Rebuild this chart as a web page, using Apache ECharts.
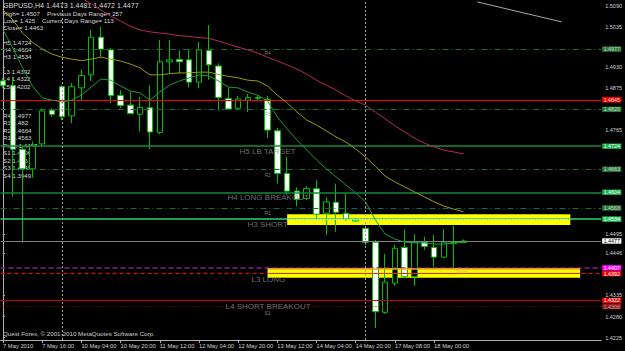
<!DOCTYPE html>
<html><head><meta charset="utf-8">
<script src="https://cdn.jsdelivr.net/npm/echarts@6/dist/echarts.min.js"></script>
<style>html,body{margin:0;padding:0;background:#000;}#c{width:625px;height:351px;}</style>
</head><body><div id="c"></div>
<script>
// ---- data ----
const xTickIdx = [0,4,8,12,16,20,24,28,32,36,40,44];
const xTickText = ['7 May 2010','7 May 16:00','10 May 04:00','10 May 20:00','11 May 12:00','12 May 04:00','12 May 20:00','13 May 12:00','14 May 04:00','14 May 20:00','17 May 08:00','18 May 00:00'];
// only the price-scale labels that are not covered by level tags
const yTickVal  = [1.5090,1.5035,1.4930,1.4875,1.4765,1.4495,1.4446,1.4335,1.4280,1.4225];
const yTickText = ['1.5090','1.5035','1.4930','1.4875','1.4765','1.4495','1.4446','1.4335','1.4280','1.4225'];

const open  = [1.4894,1.4882,1.4716,1.4665,1.4730,1.4818,1.4879,1.4803,1.4876,1.4910,1.5008,1.4975,1.4856,1.4831,1.4807,1.4824,1.4760,1.4944,1.4950,1.4949,1.4891,1.4973,1.4933,1.4848,1.4823,1.4844,1.4851,1.4846,1.4764,1.4653,1.4607,1.4588,1.4613,1.4549,1.4578,1.4549,1.4532,1.4510,1.4474,1.4291,1.4367,1.4460,1.4384,1.4474,1.4460,1.4435,1.4470,1.4473];
const close = [1.4882,1.4716,1.4665,1.4725,1.4816,1.4807,1.4801,1.4879,1.4908,1.5008,1.4977,1.4856,1.4830,1.4809,1.4825,1.4761,1.4944,1.4949,1.4944,1.4891,1.4975,1.4936,1.4851,1.4821,1.4847,1.4851,1.4849,1.4766,1.4653,1.4607,1.4586,1.4614,1.4547,1.4579,1.4552,1.4534,1.4529,1.4474,1.4293,1.4370,1.4458,1.4384,1.4474,1.4463,1.4435,1.4474,1.4473,1.4477];
const low   = [1.4876,1.4592,1.4473,1.4642,1.4725,1.4801,1.4792,1.4784,1.4844,1.4894,1.4957,1.4836,1.4824,1.4807,1.4762,1.4716,1.4755,1.4914,1.4914,1.4877,1.4875,1.4897,1.4817,1.4820,1.4818,1.4813,1.4844,1.4745,1.4627,1.4597,1.4568,1.4584,1.4534,1.4493,1.4501,1.4529,1.4527,1.4467,1.4250,1.4287,1.4360,1.4381,1.4360,1.4454,1.4410,1.4433,1.4404,1.4472];
const high  = [1.4902,1.4905,1.4725,1.4736,1.4823,1.4823,1.4883,1.4889,1.4923,1.5027,1.5035,1.4980,1.4870,1.4866,1.4853,1.4883,1.5001,1.5001,1.4973,1.4977,1.4996,1.5040,1.4940,1.4876,1.4855,1.4860,1.4857,1.4855,1.4771,1.4697,1.4617,1.4620,1.4636,1.4591,1.4626,1.4601,1.4537,1.4516,1.4480,1.4443,1.4467,1.4507,1.4495,1.4488,1.4493,1.4508,1.4517,1.4481];

const maFast = [1.5027,1.4980,1.4928,1.4881,1.4850,1.4844,1.4839,1.4844,1.4857,1.4878,1.4899,1.4896,1.4881,1.4868,1.4863,1.4844,1.4865,1.4883,1.4894,1.4902,1.4910,1.4907,1.4894,1.4878,1.4876,1.4865,1.4857,1.4842,1.4800,1.4769,1.4740,1.4714,1.4688,1.4665,1.4644,1.4623,1.4602,1.4579,1.4532,1.4495,1.4482,1.4474,1.4472,1.4472,1.4469,1.4469,1.4472,1.4474];
const maMid  = [1.5079,1.5053,1.5019,1.4995,1.4977,1.4964,1.4956,1.4951,1.4947,1.4951,1.4956,1.4951,1.4946,1.4938,1.4928,1.4910,1.4910,1.4913,1.4915,1.4915,1.4917,1.4917,1.4911,1.4906,1.4902,1.4896,1.4894,1.4881,1.4857,1.4837,1.4813,1.4792,1.4779,1.4764,1.4748,1.4735,1.4717,1.4696,1.4672,1.4646,1.4631,1.4618,1.4605,1.4592,1.4579,1.4568,1.4560,1.4553];
const maSlow = [1.5287,1.5261,1.5235,1.5209,1.5183,1.5162,1.5144,1.5126,1.5110,1.5095,1.5079,1.5063,1.5050,1.5037,1.5027,1.5022,1.5019,1.5016,1.5012,1.5010,1.5007,1.5005,1.4998,1.4990,1.4982,1.4975,1.4967,1.4956,1.4946,1.4936,1.4925,1.4912,1.4896,1.4883,1.4870,1.4855,1.4842,1.4831,1.4813,1.4795,1.4777,1.4761,1.4745,1.4732,1.4722,1.4714,1.4709,1.4704];

const greyLineIdx   = [48.4, 57.0];
const greyLinePrice = [1.5100, 1.5048];

const levelValue = [1.4977,1.4845,1.4820,1.4724,1.4664,1.4604,1.4563,1.4534,1.4477,1.4407,1.4392,1.4322,1.4306];
const levelText  = ['1.4977','1.4845','1.4820','1.4724','1.4663','1.4604','1.4563','1.4534','1.4477','1.4407','1.4392','1.4322','1.4306'];
const levelKind  = ['R','red','R','H','R','H','R','H3','bid','P','L3','L4','S'];

const separatorIdx = [6, 37];

const zoneStart  = [29.0, 27.0];
const zoneEnd    = [57.9, 58.9];
const zoneTop    = [1.45465, 1.44058];
const zoneBottom = [1.45187, 1.43814];

const bigLabelText  = ['H5 LB TARGET','H4 LONG BREAKOUT','H3 SHORT','L3 LONG','L4 SHORT BREAKOUT'];
const bigLabelIdx   = [24.19, 22.96, 25.0, 25.41, 22.76];
const bigLabelPrice = [1.47193, 1.45994, 1.45265, 1.43832, 1.43154];

const smallLabelText  = ['R4','R3','R2','R1','S1','Pivot'];
const smallLabelIdx   = [26.73, 26.73, 26.73, 26.73, 26.73, 46.29];
const smallLabelPrice = [1.49720, 1.48130, 1.46551, 1.45559, 1.42946, 1.44014];

const infoLines = [
  ['GBPUSD,H4 1.4473 1.4481 1.4472 1.4477'],
  ['High= 1.4507','Previous Days Range= 257'],
  ['Low= 1.425','Current Days Range= 113'],
  ['Close= 1.4463'],
  [''],
  ['H5 1.4724'],['H4 1.4604'],['H3 1.4534'],[''],
  ['L3 1.4392'],['L4 1.4322'],['L5 1.4202']
];
const pivotLines = ['R4 1.4977','R3 1.482','R2 1.4664','R1 1.4563','Pivot 1.4407','S1 1.4306','S2 1.415','S3 1.4049','S4 1.3949'];
const copyright = 'Quest Forex, \u00a9 2001-2010 MetaQuotes Software Corp.';

// ---- styles ----
const FONT = 'Liberation Sans, Arial, sans-serif';
const kindStyle = {
  R:   {line:{color:'#1d6b30', width:1, type:[6,3,1,3]}, bg:'#2c7a3c', fg:'#c8d8c8'},
  red: {line:{color:'#ff0000', width:1, type:'solid'}, bg:'#ff0000', fg:'#ffd0d0'},
  H:   {line:{color:'#138a3c', width:1.5, type:'solid'}, bg:'#14b24a', fg:'#ffffff'},
  H3:  {line:{color:'#2ad462', width:1.5, type:'solid'}, bg:'#22cc5a', fg:'#ffffff'},
  bid: {line:{color:'#808080', width:1, type:'solid'}, bg:'#ffffff', fg:'#000000'},
  P:   {line:{color:'#8b1a8b', width:1.5, type:[5,3]}, bg:'#ff00ff', fg:'#ffffff'},
  L3:  {line:{color:'#ff0000', width:1, type:[4,3]}, bg:'#ff0000', fg:'#ffffff'},
  L4:  {line:{color:'#d00000', width:1, type:'solid'}, bg:'#ff0000', fg:'#ffffff'},
  S:   {line:{color:'#8b0000', width:1, type:[1,2]}, bg:'#8b1a1a', fg:'#d0a0a0'}
};

const chart = echarts.init(document.getElementById('c'), null, {renderer:'svg'});
const candleData = open.map((o,i)=>[i,o,close[i],low[i],high[i]]);
const toLine = arr => arr.map((v,i)=>[i,v]);

const graphics = [];
let gy = 6;
infoLines.forEach((row, r) => {
  if (row[0]) graphics.push({type:'text', x:3, y:gy, style:{text:row[0], fill:'#d8d8d8', font:(r===0?'7.1px ':'6.2px ')+FONT, verticalAlign:'middle'}});
  if (row[1]) graphics.push({type:'text', x: row[0].startsWith('High')?47:42, y:gy, style:{text:row[1], fill:'#d8d8d8', font:'6.2px '+FONT, verticalAlign:'middle'}});
  gy += (gy < 30 ? 7.2 : 7.35);
});
pivotLines.forEach((t,i) => {
  graphics.push({type:'text', x:3, y:115 + i*7.5, style:{text:t, fill:'#d8d8d8', font:'6.2px '+FONT, verticalAlign:'middle'}});
});
graphics.push({type:'text', x:3, y:333.5, style:{text:copyright, fill:'#d0d0d0', font:'6.2px '+FONT, verticalAlign:'middle'}});

// level lines seen through the yellow zones (H3 in upper zone, Pivot edge in lower zone)
const zoneOverlay = [
  [{xAxis:zoneStart[0], yAxis:levelValue[7], lineStyle:{color:'#ffffb0', width:1.2, type:[2,1]}}, {xAxis:zoneEnd[0], yAxis:levelValue[7]}],
  [{xAxis:zoneStart[1], yAxis:zoneTop[1], lineStyle:{color:'#ffa020', width:1.5, type:'solid'}}, {xAxis:zoneEnd[1], yAxis:zoneTop[1]}],
  [{xAxis:zoneStart[1], yAxis:levelValue[10], lineStyle:{color:'#ff2000', width:1, type:'solid'}}, {xAxis:zoneEnd[1], yAxis:levelValue[10]}]
];

const option = {
  backgroundColor:'#000000',
  animation:false,
  grid:{left:0, right:23, top:0, bottom:11},
  xAxis:{
    type:'value', min:-0.2546, max:61.05,
    axisLine:{show:true, lineStyle:{color:'#b0b0b0', width:1}},
    axisTick:{show:true, customValues:xTickIdx, length:3, lineStyle:{color:'#b0b0b0'}},
    axisLabel:{customValues:xTickIdx, formatter:v=>xTickText[xTickIdx.indexOf(Math.round(v))] || '',
      align:'left', fontSize:5.8, color:'#d0d0d0', margin:3, fontFamily:FONT},
    splitLine:{show:false}
  },
  yAxis:{
    type:'value', position:'right', min:1.4219, max:1.5105,
    axisLine:{show:true, lineStyle:{color:'#b0b0b0', width:1}},
    axisTick:{show:true, customValues:yTickVal, length:2, lineStyle:{color:'#b0b0b0'}},
    axisLabel:{customValues:yTickVal, formatter:v=>{const k=yTickVal.findIndex(t=>Math.abs(t-v)<1e-7);return k>=0?yTickText[k]:'';},
      fontSize:5.5, color:'#d0d0d0', margin:4, fontFamily:FONT},
    splitLine:{show:false}
  },
  graphic: graphics,
  series:[
    { // level lines + separators
      type:'line', data:[], z:1, silent:true,
      markLine:{symbol:['none','none'], silent:true, animation:false, precision:6,
        data: levelValue.map((v,i)=>{const s=kindStyle[levelKind[i]];return {yAxis:v, lineStyle:s.line,
          label:{show:true, position:'end', distance:1, formatter:levelText[i], backgroundColor:s.bg, color:s.fg,
            fontSize:5.3, lineHeight:5.4, fontFamily:FONT, padding:[0,1.5,0,1.5]}};}).concat(
          separatorIdx.map(x=>({xAxis:x, lineStyle:{color:'#a0a0a0', width:1, type:[2,2]}, label:{show:false}})))
      }
    },
    { // yellow zones
      type:'line', data:[], z:2, silent:true,
      markArea:{silent:true, itemStyle:{color:'#ffff00', opacity:1},
        data: zoneStart.map((s,i)=>[{xAxis:s, yAxis:zoneTop[i]},{xAxis:zoneEnd[i], yAxis:zoneBottom[i]}])},
      markLine:{symbol:['none','none'], silent:true, animation:false, precision:6, label:{show:false}, data: zoneOverlay}
    },
    {
      type:'candlestick', data:candleData, encode:{x:0, y:[1,2,3,4]}, barWidth:6, z:4,
      itemStyle:{color:'#000000', color0:'#ffffff', borderColor:'#00c000', borderColor0:'#00c000', borderColorDoji:'#00c000', borderWidth:1}
    },
    {type:'line', data:toLine(maFast), symbol:'none', z:5, lineStyle:{color:'#1e9a3c', width:1}, silent:true},
    {type:'line', data:toLine(maMid), symbol:'none', z:5, lineStyle:{color:'#9a9a10', width:1}, silent:true},
    {type:'line', data:toLine(maSlow), symbol:'none', z:5, lineStyle:{color:'#b8285a', width:1}, silent:true},
    {type:'line', data:greyLineIdx.map((x,i)=>[x,greyLinePrice[i]]), symbol:'none', z:5, lineStyle:{color:'#a8a8a8', width:1}, silent:true},
    {
      type:'scatter', symbolSize:1, itemStyle:{color:'rgba(0,0,0,0)'}, z:6, silent:true,
      data: bigLabelText.map((t,i)=>({name:t, value:[bigLabelIdx[i], bigLabelPrice[i]]})),
      label:{show:true, formatter:'{b}', position:[0,0], align:'left', verticalAlign:'top', color:'#8c8c8c', fontSize:8, lineHeight:7, fontFamily:FONT}
    },
    {
      type:'scatter', symbolSize:1, itemStyle:{color:'rgba(0,0,0,0)'}, z:6, silent:true,
      data: smallLabelText.map((t,i)=>({name:t, value:[smallLabelIdx[i], smallLabelPrice[i]]})),
      label:{show:true, formatter:'{b}', position:[0,0], align:'left', verticalAlign:'top', color:'#9a9a9a', fontSize:5, lineHeight:5, fontFamily:FONT}
    }
  ]
};
chart.setOption(option);
</script></body></html>
